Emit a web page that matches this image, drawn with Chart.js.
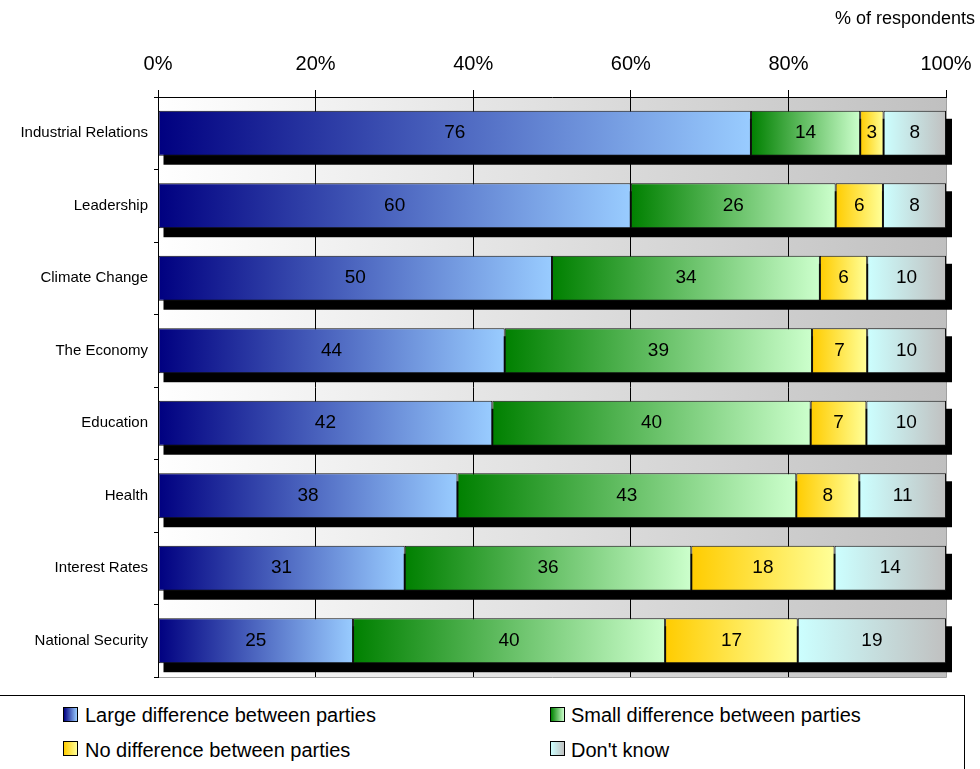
<!DOCTYPE html>
<html>
<head>
<meta charset="utf-8">
<script src="https://cdn.jsdelivr.net/npm/chart.js@4.4.1/dist/chart.umd.min.js"></script>
<style>
  html, body { margin: 0; padding: 0; background: #fff; overflow: hidden; }
  #wrap { position: relative; width: 980px; height: 769px; }
  #legend {
    position: absolute; left: -1px; top: 695px; width: 966px; height: 120px;
    border: 1px solid #000; background: #fff; box-sizing: border-box;
    font-family: "Liberation Sans", Arial, sans-serif; font-size: 20px; color: #000;
  }
  .item { position: absolute; white-space: nowrap; line-height: 20px; }
  .swatch {
    position: absolute; width: 15px; height: 15px; box-sizing: border-box;
    border: 1px solid #000;
  }
</style>
</head>
<body>
<div id="wrap">
  <canvas id="chart"></canvas>
  <div id="legend"></div>
</div>
<script>
const FONT = '"Liberation Sans", Arial, sans-serif';

// Categories (top to bottom)
const topics = [
  "Industrial Relations",
  "Leadership",
  "Climate Change",
  "The Economy",
  "Education",
  "Health",
  "Interest Rates",
  "National Security",
];

// Series values (% of respondents)
const largeDiff = [76, 60, 50, 44, 42, 38, 31, 25];
const smallDiff = [14, 26, 34, 39, 40, 43, 36, 40];
const noDiff = [3, 6, 6, 7, 7, 8, 18, 17];
const dontKnow = [8, 8, 10, 10, 10, 11, 14, 19];

const seriesNames = [
  "Large difference between parties",
  "Small difference between parties",
  "No difference between parties",
  "Don't know",
];

// left -> right gradient stops per series
const gradStops = [
  ["#000080", "#99ccff"],
  ["#008000", "#ccffcc"],
  ["#ffcc00", "#ffff99"],
  ["#ccffff", "#c0c0c0"],
];

const xTicks = [0, 20, 40, 60, 80, 100];

const raw = [largeDiff, smallDiff, noDiff, dontKnow];

// 100% stacked: scale each row to its total
const totals = topics.map((t, i) => raw.reduce((s, arr) => s + arr[i], 0));
const pct = raw.map((arr) => arr.map((v, i) => (v / totals[i]) * 100));

function segmentGradient(context) {
  const ds = context.datasetIndex;
  const stops = gradStops[ds];
  if (context.type !== "data") return stops[0];
  const chart = context.chart;
  const x = chart.scales.x;
  if (!x || !chart.chartArea) return stops[0];
  const i = context.dataIndex;
  let start = 0;
  for (let k = 0; k < ds; k++) start += pct[k][i];
  const x0 = x.getPixelForValue(start);
  const x1 = x.getPixelForValue(start + pct[ds][i]);
  const g = chart.ctx.createLinearGradient(x0, 0, x1, 0);
  g.addColorStop(0, stops[0]);
  g.addColorStop(1, stops[1]);
  return g;
}

// plot background: white to grey
const plotBackground = {
  id: "plotBackground",
  beforeDraw(chart) {
    const { ctx, chartArea: a } = chart;
    const g = ctx.createLinearGradient(a.left, 0, a.right, 0);
    g.addColorStop(0, "#ffffff");
    g.addColorStop(1, "#c0c0c0");
    ctx.save();
    ctx.fillStyle = g;
    ctx.fillRect(a.left, a.top, a.right - a.left, a.bottom - a.top);
    ctx.strokeStyle = "#a0a0a0";
    ctx.lineWidth = 1;
    ctx.beginPath();
    ctx.moveTo(a.left, a.bottom + 0.5);
    ctx.lineTo(a.right + 0.5, a.bottom + 0.5);
    ctx.lineTo(a.right + 0.5, a.top);
    ctx.stroke();
    ctx.restore();
  },
};

// black drop shadow behind each stacked bar
const barShadow = {
  id: "barShadow",
  beforeDatasetsDraw(chart) {
    const { ctx } = chart;
    const first = chart.getDatasetMeta(0).data;
    const last = chart.getDatasetMeta(raw.length - 1).data;
    ctx.save();
    ctx.fillStyle = "#000";
    first.forEach((bar, i) => {
      const left = bar.base;
      const right = last[i].x;
      const top = bar.y - bar.height / 2;
      ctx.fillRect(left + 5, top + 8, right - left + 1, bar.height + 1);
    });
    ctx.restore();
  },
};

// value labels in the middle of each segment
const valueLabels = {
  id: "valueLabels",
  afterDatasetsDraw(chart) {
    const { ctx } = chart;
    ctx.save();
    ctx.font = "19px " + FONT;
    ctx.fillStyle = "#000";
    ctx.textAlign = "center";
    ctx.textBaseline = "middle";
    raw.forEach((arr, d) => {
      chart.getDatasetMeta(d).data.forEach((bar, i) => {
        ctx.fillText(String(arr[i]), (bar.base + bar.x) / 2, bar.y);
      });
    });
    ctx.restore();
  },
  afterDraw(chart) {
    const { ctx } = chart;
    ctx.save();
    ctx.font = "18px " + FONT;
    ctx.fillStyle = "#000";
    ctx.textAlign = "right";
    ctx.textBaseline = "middle";
    ctx.fillText("% of respondents", 975, 19);
    ctx.restore();
  },
};

const datasets = seriesNames.map((name, d) => ({
  label: name,
  data: pct[d],
  backgroundColor: segmentGradient,
  borderColor: "#111",
  borderWidth: 1,
  borderSkipped: false,
  barPercentage: 0.62,
  categoryPercentage: 1,
  clip: false,
}));

new Chart(document.getElementById("chart"), {
  type: "bar",
  data: { labels: topics, datasets },
  plugins: [plotBackground, barShadow, valueLabels],
  options: {
    indexAxis: "y",
    responsive: true,
    maintainAspectRatio: false,
    animation: false,
    layout: { padding: { left: 0, right: 34, top: 0, bottom: 92 } },
    plugins: {
      legend: { display: false },
      tooltip: { enabled: false },
    },
    scales: {
      x: {
        position: "top",
        stacked: true,
        min: 0,
        max: 100,
        afterBuildTicks(scale) {
          scale.ticks = xTicks.map((v) => ({ value: v }));
        },
        afterFit(scale) {
          scale.height = 97;
          scale.paddingLeft = 0;
          scale.paddingRight = 0;
        },
        ticks: {
          padding: 14,
          color: "#000",
          font: { family: FONT, size: 20 },
          callback: (v) => v + "%",
        },
        grid: {
          color: (c) => (c.tick && c.tick.value === 100 ? "#a0a0a0" : "#000"),
          tickColor: "#000",
          tickLength: 7,
          lineWidth: 1,
        },
        border: { display: true, color: "#000", width: 1 },
      },
      y: {
        stacked: true,
        afterFit(scale) {
          scale.width = 158;
          scale.paddingTop = 0;
          scale.paddingBottom = 0;
        },
        ticks: {
          padding: 6,
          color: "#000",
          font: { family: FONT, size: 15 },
        },
        grid: {
          offset: true,
          drawOnChartArea: false,
          tickLength: 4,
          color: "#000",
        },
        border: { display: true, color: "#000", width: 1 },
      },
    },
  },
});

// legend, two columns
const legendEl = document.getElementById("legend");
const legendPos = [
  { sx: 63, sy: 11, tx: 85, ty: 9 },
  { sx: 550, sy: 11, tx: 571, ty: 9 },
  { sx: 63, sy: 45, tx: 85, ty: 44 },
  { sx: 550, sy: 45, tx: 571, ty: 44 },
];
seriesNames.forEach((name, d) => {
  const p = legendPos[d];
  const sw = document.createElement("div");
  sw.className = "swatch";
  sw.style.left = p.sx + "px";
  sw.style.top = p.sy + "px";
  sw.style.background =
    "linear-gradient(to right, " + gradStops[d][0] + ", " + gradStops[d][1] + ")";
  legendEl.appendChild(sw);
  const tx = document.createElement("div");
  tx.className = "item";
  tx.style.left = p.tx + "px";
  tx.style.top = p.ty + "px";
  tx.textContent = name;
  legendEl.appendChild(tx);
});
</script>
</body>
</html>
